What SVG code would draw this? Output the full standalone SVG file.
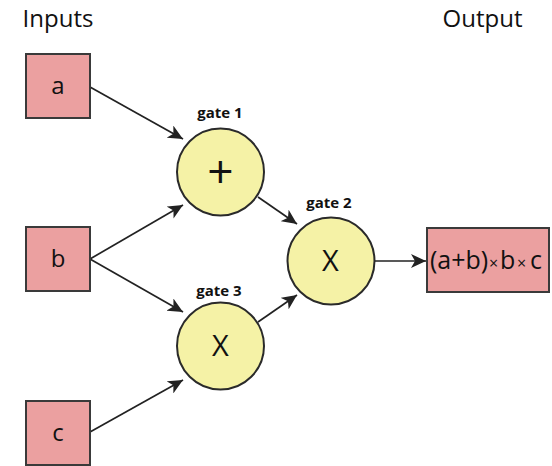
<svg xmlns="http://www.w3.org/2000/svg" width="552" height="466" viewBox="0 0 552 466">
<defs>
<marker id="ah" markerWidth="16" markerHeight="14" viewBox="0 0 16 14" refX="15" refY="7" orient="auto" markerUnits="userSpaceOnUse">
<path d="M0,0 L15,7 L0,14 L4,7 Z" fill="#222"/>
</marker>
</defs>
<style>
.box{fill:#eba0a0;stroke:#3a3a3a;stroke-width:2}
.gate{fill:#f5f2a6;stroke:#2a2a2a;stroke-width:2}
.t{font-family:"Open Sans","Noto Sans",sans-serif;fill:#111;text-anchor:middle}
.lbl{font-family:"Open Sans","Noto Sans",sans-serif;font-weight:bold;font-size:15px;fill:#111;text-anchor:middle}
.c{stroke:#222;stroke-width:1.7;fill:none;marker-end:url(#ah)}
</style>
<rect width="552" height="466" fill="#fff"/>
<text class="t" x="58" y="27" font-size="24">Inputs</text>
<text class="t" x="482.5" y="27" font-size="24">Output</text>
<g id="connectors">
<line class="c" x1="90" y1="87" x2="183" y2="139"/>
<line class="c" x1="90" y1="259" x2="183" y2="205"/>
<line class="c" x1="90" y1="259" x2="183" y2="312"/>
<line class="c" x1="90" y1="432" x2="183" y2="380"/>
<line class="c" x1="258" y1="197" x2="297" y2="224"/>
<line class="c" x1="258" y1="322" x2="297" y2="295"/>
<line class="c" x1="375" y1="261" x2="426" y2="261"/>
</g>
<g id="a"><rect class="box" x="26" y="54" width="64" height="64"/><text class="t" x="58" y="94" font-size="24">a</text></g>
<g id="b"><rect class="box" x="26" y="227" width="64" height="64"/><text class="t" x="58" y="267" font-size="24">b</text></g>
<g id="c"><rect class="box" x="26" y="401" width="64" height="64"/><text class="t" x="58" y="441" font-size="24">c</text></g>
<g id="gate1"><circle class="gate" cx="220.5" cy="172" r="43.5"/><text class="t" x="220.5" y="188" font-size="46">+</text><text class="lbl" x="220" y="118">gate 1</text></g>
<g id="gate2"><circle class="gate" cx="331" cy="261" r="43.5"/><text class="t" x="330.5" y="271" font-size="29">X</text><text class="lbl" x="329" y="208">gate 2</text></g>
<g id="gate3"><circle class="gate" cx="220.5" cy="346" r="43.5"/><text class="t" x="220.5" y="356" font-size="29">X</text><text class="lbl" x="219" y="296">gate 3</text></g>
<g id="output"><rect class="box" x="427" y="228" width="122" height="64"/><text class="t" y="269" font-size="25" style="text-anchor:start"><tspan x="430">(a+b)</tspan><tspan x="489" font-size="16">×</tspan><tspan x="500">b</tspan><tspan x="517" font-size="16">×</tspan><tspan x="530">c</tspan></text></g>
</svg>
